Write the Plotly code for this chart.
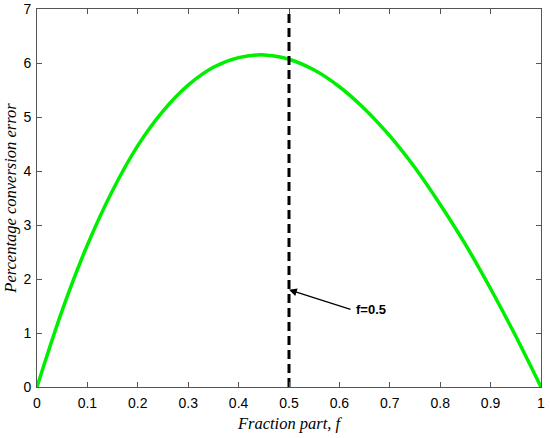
import plotly.graph_objects as go

f_vals = [0.0, 0.05, 0.10, 0.15, 0.20, 0.25, 0.30, 0.35, 0.40, 0.45, 0.50,
          0.55, 0.60, 0.65, 0.70, 0.75, 0.80, 0.85, 0.90, 0.95, 1.0]
err_vals = [0.0, 1.42, 2.63, 3.64, 4.47, 5.11, 5.59, 5.92, 6.10, 6.15, 6.07,
            5.87, 5.56, 5.15, 4.65, 4.06, 3.38, 2.64, 1.82, 0.94, 0.0]
marker_f = 0.5
y_range = [0, 7]
x_ticks = [0, 0.1, 0.2, 0.3, 0.4, 0.5, 0.6, 0.7, 0.8, 0.9, 1]
x_tick_labels = ["0", "0.1", "0.2", "0.3", "0.4", "0.5", "0.6", "0.7", "0.8", "0.9", "1"]
y_ticks = [0, 1, 2, 3, 4, 5, 6, 7]

fig = go.Figure()
fig.add_trace(go.Scatter(
    x=f_vals, y=err_vals, mode="lines",
    line=dict(color="#00ee00", width=3.5, shape="spline", smoothing=1.0),
    showlegend=False, hoverinfo="skip"))
fig.add_trace(go.Scatter(
    x=[marker_f, marker_f], y=y_range, mode="lines",
    line=dict(color="black", width=3, dash="9px,5px"),
    showlegend=False, hoverinfo="skip"))

fig.add_annotation(
    x=marker_f, y=1.8, xref="x", yref="y",
    ax=0.625, ay=1.43, axref="x", ayref="y",
    text="", showarrow=True, arrowhead=2, arrowsize=1.3, arrowwidth=1.2,
    arrowcolor="black", standoff=0)
fig.add_annotation(
    x=0.628, y=1.43, xref="x", yref="y", text="<b>f=0.5</b>",
    showarrow=False, xanchor="left", yanchor="middle",
    font=dict(family="Liberation Sans, Arial", size=13, color="black"))

axis_common = dict(
    showgrid=False, zeroline=False, showline=True, linecolor="#555555",
    linewidth=1, mirror="ticks", ticks="inside", ticklen=5, tickcolor="#555555",
    automargin=False, ticklabeloverflow="allow",
    tickfont=dict(family="Liberation Sans, Arial", size=14, color="black"))

fig.update_xaxes(range=[0, 1], tickvals=x_ticks, ticktext=x_tick_labels,
                 ticklabelstandoff=3,
                 title=dict(text="<i>Fraction part, f</i>", standoff=7,
                            font=dict(family="Liberation Serif, Times New Roman", size=16.5, color="black")),
                 **axis_common)
fig.update_yaxes(range=y_range, tickvals=y_ticks, ticklabelstandoff=2,
                 title=dict(text="<i>Percentage conversion error</i>", standoff=2,
                            font=dict(family="Liberation Serif, Times New Roman", size=16.5, color="black")),
                 **axis_common)

fig.update_layout(
    width=550, height=438,
    margin=dict(l=37, r=9, t=9, b=51),
    plot_bgcolor="white", paper_bgcolor="white")

fig.write_html("out.html", config={"displayModeBar": False},
               post_script="document.body.style.margin='0';document.body.style.overflow='hidden';")
